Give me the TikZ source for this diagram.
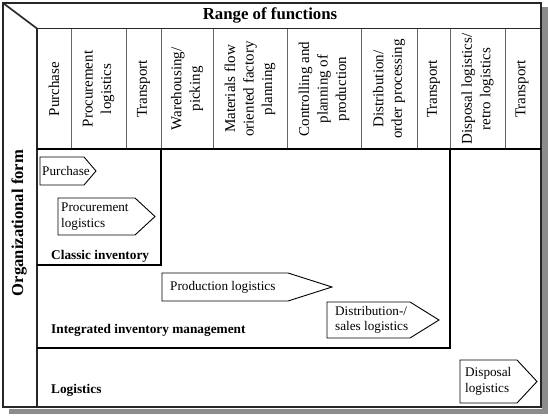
\documentclass[tikz,border=0pt]{standalone}
\usepackage{fontspec}
\setmainfont{Liberation Serif}
\begin{document}
\begin{tikzpicture}[x=1pt,y=-1pt,line join=miter,
  frame/.style={line width=1.6pt,draw=black!85},
  boxline/.style={line width=1.1pt,draw=black},
  sepline/.style={line width=0.9pt,draw=black!60},
  coltext/.style={rotate=90,align=center,inner sep=0pt,font=\fontsize{15}{18.5}\selectfont},
  sigtext/.style={anchor=west,align=left,inner sep=0pt,font=\fontsize{13.2}{15.5}\selectfont},
  sigshape/.style={draw=black,line width=0.9pt,fill=white},
  labeltext/.style={anchor=west,inner sep=0pt,font=\fontsize{13.3}{15}\selectfont\bfseries},
  shadow/.style={fill=black!45}]
\useasboundingbox (0,0) rectangle (548,415);
% shadow
\fill[shadow] (542,7) rectangle (548,414);
\fill[shadow] (9,408.5) rectangle (548,414);
% frame
\draw[frame,fill=white] (3,3) rectangle (541,407);
\draw[frame] (3,3) -- (37,28.5);
\draw[frame] (37,28.5) -- (541,28.5);
\draw[frame] (37,28.5) -- (37,407);
% column separators
\foreach \x in {71,126,161,213,287,361,417,450,505} {
  \draw[sepline] (\x,28.5) -- (\x,149);
}
\draw[boxline] (37,149) -- (541,149);
% classic box
\draw[boxline] (161,149) -- (161,265) -- (37,265);
% integrated box
\draw[boxline] (450,149) -- (450,348) -- (37,348);
% headings
\node[font=\fontsize{16.8}{18}\selectfont\bfseries,inner sep=0pt] (range) at (270,15.5) {Range of functions};
\node[font=\fontsize{16.6}{18}\selectfont\bfseries,inner sep=0pt,rotate=90] (org) at (19,223) {Organizational form};
% column labels
\node[coltext] (c1) at (54,89) {Purchase};
\node[coltext] (c2) at (98.5,89) {Procurement\\logistics};
\node[coltext] (c3) at (143.5,89) {Transport};
\node[coltext] (c4) at (187,89) {Warehousing/\\picking};
\node[coltext] (c5) at (250,89) {Materials flow\\oriented factory\\planning};
\node[coltext] (c6) at (324,89) {Controlling and\\planning of\\production};
\node[coltext] (c7) at (389,89) {Distribution/\\order processing};
\node[coltext] (c8) at (433.5,89) {Transport};
\node[coltext] (c9) at (477.5,89) {Disposal logistics/\\retro logistics};
\node[coltext] (c10) at (522,89) {Transport};
% signal shapes
\draw[sigshape] (40,157) -- (84,157) -- (96,171) -- (84,185) -- (40,185) -- cycle;
\node[sigtext] (s1) at (42,171) {Purchase};
\draw[sigshape] (58,198) -- (135,198) -- (155,216.5) -- (135,235) -- (58,235) -- cycle;
\node[sigtext] (s2) at (61,216.5) {Procurement\\logistics};
\draw[sigshape] (162,273) -- (288,273) -- (332,287) -- (288,301) -- (162,301) -- cycle;
\node[sigtext] (s3) at (170,287) {Production logistics};
\draw[sigshape] (327,302) -- (410,302) -- (439,320) -- (410,338) -- (327,338) -- cycle;
\node[sigtext] (s4) at (335,320) {Distribution-/\\sales logistics};
\draw[sigshape] (460,360) -- (517,360) -- (537,381.5) -- (517,403) -- (460,403) -- cycle;
\node[sigtext] (s5) at (465,381.5) {Disposal\\logistics};
% area labels
\node[labeltext] (l1) at (51,256) {Classic inventory};
\node[labeltext] (l2) at (51,330) {Integrated inventory management};
\node[labeltext] (l3) at (51,390) {Logistics};
\end{tikzpicture}
\end{document}
